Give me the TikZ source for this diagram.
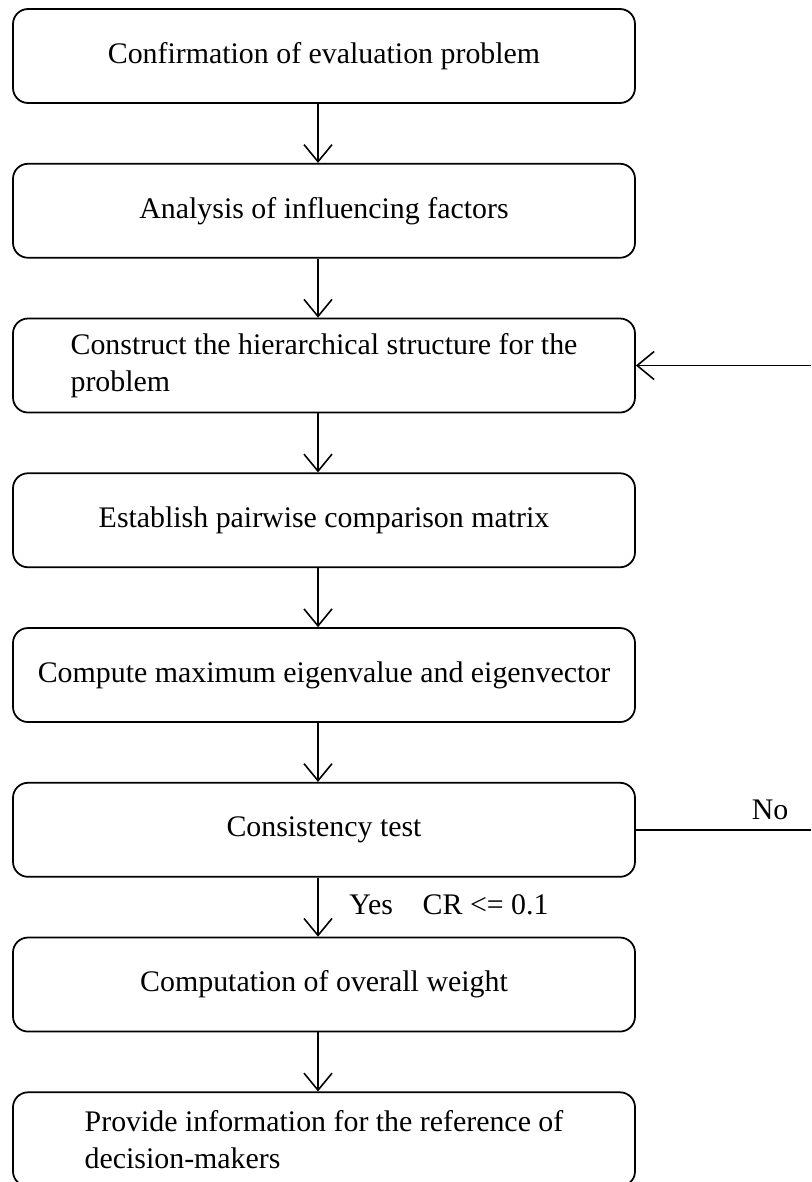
\documentclass[tikz,border=0pt]{standalone}
\usepackage{fontspec}
\setmainfont{Liberation Serif}
\usetikzlibrary{positioning,arrows.meta}

\begin{document}
\begin{tikzpicture}[
    stagebox/.style={rectangle, rounded corners=0.3cm, draw=black, line width=1pt, minimum width=12.44cm, minimum height=1.88cm, inner sep=0pt, align=center, font=\fontsize{17}{21}\selectfont},
    flow/.style={draw=black, line width=0.9pt, -{Straight Barb[length=0.34cm, width=0.56cm]}},
    note/.style={font=\fontsize{17}{20.5}\selectfont},
    node distance=1.18cm]

    \useasboundingbox (0,0) rectangle (16.22,-23.64);

    % Process steps
    \node[stagebox] (confirm) at (6.48,-1.12) {Confirmation of evaluation problem};
    \node[stagebox, below=of confirm] (factors) {Analysis of influencing factors};
    \node[stagebox, below=of factors, align=flush left] (hierarchy) {Construct the hierarchical structure for the\\problem};
    \node[stagebox, below=of hierarchy] (matrix) {Establish pairwise comparison matrix};
    \node[stagebox, below=of matrix] (eigen) {Compute maximum eigenvalue and eigenvector};
    \node[stagebox, below=of eigen] (test) {Consistency test};
    \node[stagebox, below=of test] (weight) {Computation of overall weight};
    \node[stagebox, below=of weight, align=flush left] (provide) {Provide information for the reference of\\decision-makers};

    % Main flow
    \foreach \a/\b in {confirm/factors, factors/hierarchy, hierarchy/matrix, matrix/eigen, eigen/test, test/weight, weight/provide} {
        \draw[flow] ([xshift=-0.12cm]\a.south) -- ([xshift=-0.12cm]\b.north);
    }

    % Labels
    \node[note] (yes) at (8.98,-18.1) {Yes\quad CR <= 0.1};
    \node[note] (no) at (15.4,-16.2) {No};

    % Feedback when the test fails
    \coordinate (edge) at (16.22,0);
    \coordinate (noend) at (test.east -| edge);
    \coordinate (loopin) at (hierarchy.east -| edge);
    \draw[line width=0.9pt] (test.east) -- (noend);
    \draw[flow] (loopin) -- (hierarchy.east);

\end{tikzpicture}
\end{document}
